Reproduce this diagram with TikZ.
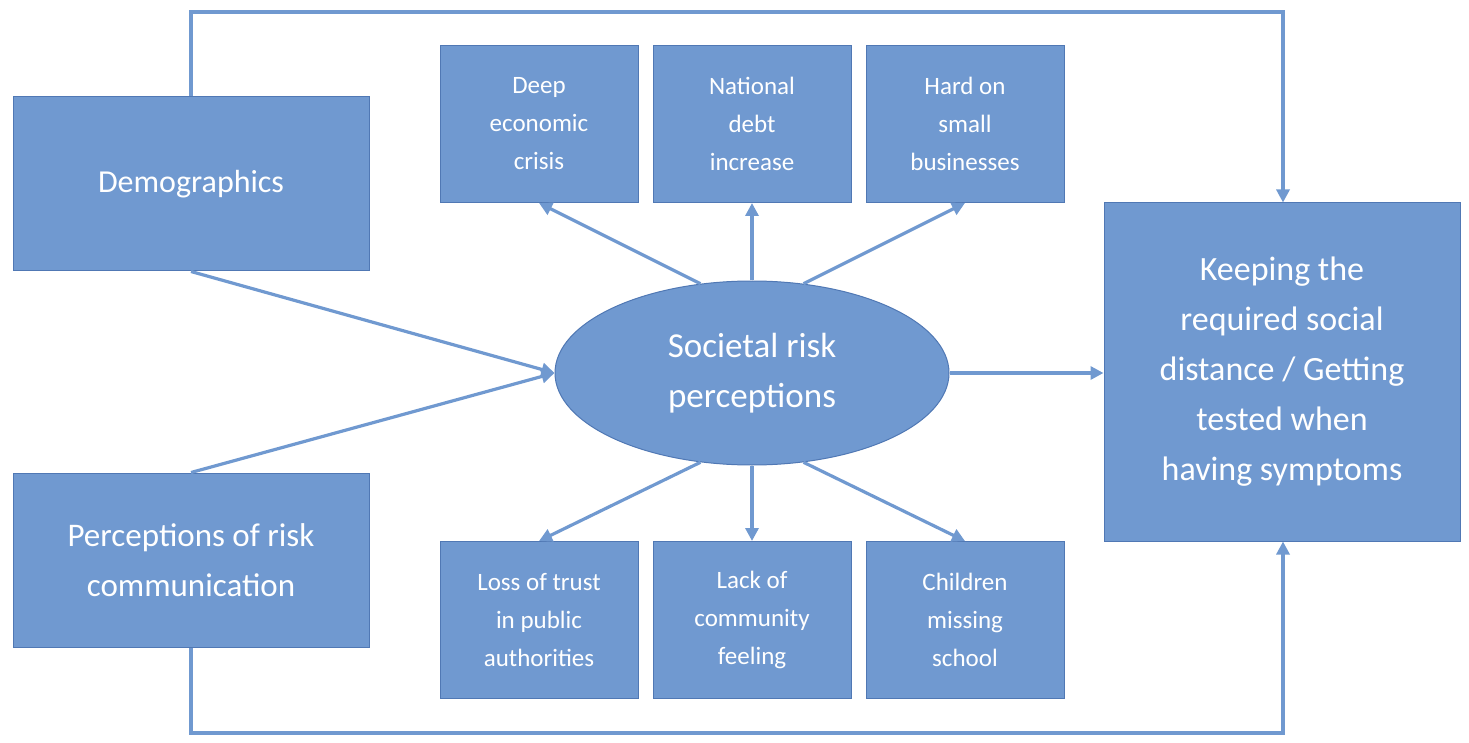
\documentclass[tikz,border=0pt]{standalone}
\usepackage{fontspec}
\setmainfont{Carlito}
\usetikzlibrary{arrows.meta,shapes.geometric}
\definecolor{bfill}{RGB}{112,153,208}
\definecolor{bdraw}{RGB}{80,120,180}
\definecolor{bline}{RGB}{112,153,208}
\begin{document}
\begin{tikzpicture}[x=1pt,y=-1pt,
  box/.style={draw=bdraw,line width=1pt,fill=bfill,text=white,align=center,inner sep=0pt},
  conn/.style={draw=bline,line width=3.2pt},
  arr/.style={conn,-{Triangle[length=13pt,width=13pt]}}]
\useasboundingbox (0,0) rectangle (1469,743);
\node[box,minimum width=356pt,minimum height=174pt,font=\fontsize{32}{40}\selectfont] (demo) at (191,184) {Demographics};
\node[box,minimum width=356pt,minimum height=174pt,font=\fontsize{33}{50}\selectfont] (perc) at (191,560) {Perceptions of risk\\communication};
\node[box,ellipse,minimum width=394pt,minimum height=184pt,font=\fontsize{35}{50}\selectfont] (soc) at (752,373) {Societal risk\\perceptions};
\node[box,minimum width=356pt,minimum height=338pt,font=\fontsize{34}{50}\selectfont] (keep) at (1282,372) {Keeping the\\required social\\distance / Getting\\tested when\\having symptoms};
\tikzset{sb/.style={box,minimum width=198pt,minimum height=157pt,font=\fontsize{25}{38}\selectfont}}
\node[sb] (t1) at (539,124) {Deep\\economic\\crisis};
\node[sb] (t2) at (752,124) {National\\debt\\increase};
\node[sb] (t3) at (965,124) {Hard on\\small\\businesses};
\node[sb] (b1) at (539,620) {Loss of trust\\in public\\authorities};
\node[sb] (b2) at (752,620) {Lack of\\community\\feeling};
\node[sb] (b3) at (965,620) {Children\\missing\\school};
\coordinate (tl) at (191,12); \coordinate (tr) at (1283,12);
\coordinate (bl) at (191,733); \coordinate (br) at (1283,733);
\draw[arr] (demo.north) -- (tl) -- (tr) -- (keep.north -| tr);
\draw[arr] (perc.south) -- (bl) -- (br) -- (keep.south -| br);
\draw[arr] (demo.south) -- (soc.west);
\draw[arr] (perc.north) -- (soc.west);
\draw[arr] (soc.east) -- (keep.west |- soc.east);
\draw[arr] (soc.120) -- (t1.south);
\draw[arr] (soc.north) -- (t2.south);
\draw[arr] (soc.60) -- (t3.south);
\draw[arr] (soc.240) -- (b1.north);
\draw[arr] (soc.south) -- (b2.north);
\draw[arr] (soc.300) -- (b3.north);
\end{tikzpicture}
\end{document}
